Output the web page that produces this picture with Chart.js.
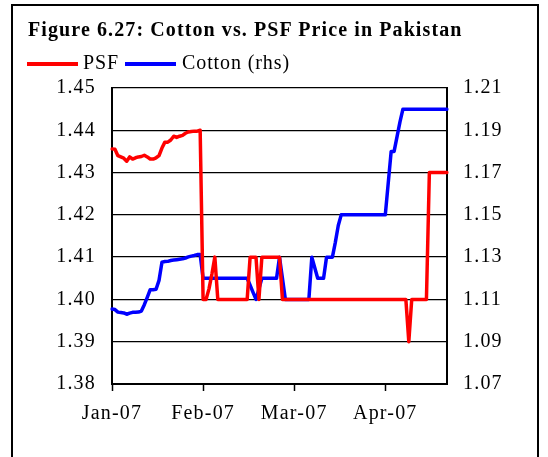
<!DOCTYPE html>
<html>
<head>
<meta charset="utf-8">
<script src="https://cdn.jsdelivr.net/npm/chart.js@4"></script>
<style>
  html, body { margin: 0; padding: 0; background: #fff; }
  #wrap { position: relative; width: 548px; height: 457px; overflow: hidden; background: #fff; }
  #frame { position: absolute; left: 11px; top: 4px; width: 524px; height: 470px;
           border-left: 2px solid #000; border-top: 2px solid #000; border-right: 2px solid #000; }
  #chart { position: absolute; left: 0; top: 0; }
  .txt { position: absolute; font-family: 'Liberation Serif', 'Times New Roman', serif; color: #000; white-space: nowrap; line-height: 20px; }
  #title { left: 28px; top: 19px; font-size: 20px; font-weight: bold; letter-spacing: 1.1px; }
  .leg { top: 52px; font-size: 20px; letter-spacing: 0.9px; }
  .sw { position: absolute; height: 3.5px; top: 62px; width: 51px; }
</style>
</head>
<body>
<div id="wrap">
  <div id="frame"></div>
  <canvas id="chart" width="548" height="457"></canvas>
  <div class="txt" id="title">Figure 6.27: Cotton vs. PSF Price in Pakistan</div>
  <div class="sw" style="left:27px;background:#ff0000"></div>
  <div class="txt leg" style="left:83px">PSF</div>
  <div class="sw" style="left:125px;background:#0000ff"></div>
  <div class="txt leg" style="left:182px">Cotton (rhs)</div>
</div>
<script>
// Tick labels on the category axis (one per month mark)
const tickIndices = [0, 31, 62, 93];
const tickLabels = ["Jan-07", "Feb-07", "Mar-07", "Apr-07"];

// Daily observations, 1 Jan 2007 onwards (115 days)
const categories = [];
for (let i = 0; i < 115; i++) {
  const d = new Date(Date.UTC(2007, 0, 1 + i));
  categories.push(d.toISOString().slice(0, 10));
}

// PSF price (left axis)
const psf = [
  1.4356, 1.4355, 1.4340, 1.4337, 1.4334, 1.4327, 1.4337, 1.4332, 1.4335, 1.4337,
  1.4338, 1.4341, 1.4337, 1.4332, 1.4332, 1.4335, 1.4340, 1.4358, 1.4372, 1.4372,
  1.4377, 1.4386, 1.4383, 1.4386, 1.4388, 1.4393, 1.4396, 1.4397, 1.4398, 1.4398,
  1.4400,
  1.4000, 1.4000, 1.4025, 1.4060, 1.4100, 1.4000,
  1.4000, 1.4000, 1.4000, 1.4000, 1.4000, 1.4000, 1.4000, 1.4000, 1.4000, 1.4000,
  1.4100, 1.4100, 1.4100, 1.4000,
  1.4100, 1.4100, 1.4100, 1.4100, 1.4100, 1.4100, 1.4100,
  1.4000, 1.4000, 1.4000, 1.4000, 1.4000, 1.4000, 1.4000, 1.4000, 1.4000, 1.4000,
  1.4000, 1.4000, 1.4000, 1.4000, 1.4000, 1.4000, 1.4000, 1.4000, 1.4000, 1.4000,
  1.4000, 1.4000, 1.4000, 1.4000, 1.4000, 1.4000, 1.4000, 1.4000, 1.4000, 1.4000,
  1.4000, 1.4000, 1.4000, 1.4000, 1.4000, 1.4000, 1.4000, 1.4000, 1.4000, 1.4000,
  1.4000, 1.4000, 1.4000,
  1.3900,
  1.4000, 1.4000, 1.4000, 1.4000, 1.4000, 1.4000,
  1.4300, 1.4300, 1.4300, 1.4300, 1.4300, 1.4300, 1.4300
];

// Cotton price (right axis)
const cotton = [
  1.1055, 1.1052, 1.1040, 1.1038, 1.1036, 1.1030, 1.1035, 1.1039, 1.1039, 1.1040,
  1.1045, 1.1075, 1.1110, 1.1146, 1.1146, 1.1148, 1.1190, 1.1276, 1.1279, 1.1280,
  1.1284, 1.1286, 1.1288, 1.1290, 1.1292, 1.1296, 1.1301, 1.1305, 1.1308, 1.1312,
  1.1312,
  1.1200, 1.1200, 1.1200, 1.1200, 1.1200, 1.1200, 1.1200, 1.1200, 1.1200, 1.1200,
  1.1200, 1.1200, 1.1200, 1.1200, 1.1200, 1.1200,
  1.1167, 1.1133, 1.1100, 1.1150,
  1.1200, 1.1200, 1.1200, 1.1200, 1.1200, 1.1200,
  1.1300, 1.1200,
  1.1100, 1.1100, 1.1100, 1.1100, 1.1100, 1.1100, 1.1100, 1.1100, 1.1100,
  1.1300, 1.1250,
  1.1200, 1.1200, 1.1200,
  1.1300, 1.1300, 1.1300,
  1.1370, 1.1450,
  1.1500, 1.1500, 1.1500, 1.1500, 1.1500, 1.1500, 1.1500, 1.1500, 1.1500, 1.1500,
  1.1500, 1.1500, 1.1500, 1.1500, 1.1500, 1.1500,
  1.1650, 1.1800, 1.1800, 1.1870, 1.1940,
  1.2000, 1.2000, 1.2000, 1.2000, 1.2000, 1.2000, 1.2000, 1.2000, 1.2000, 1.2000,
  1.2000, 1.2000, 1.2000, 1.2000, 1.2000, 1.2000
];

const FONT = { family: "'Liberation Serif', 'Times New Roman', serif", size: 20 };

const spacingPlugin = {
  id: 'spacing',
  beforeDraw(chart) { chart.ctx.letterSpacing = '1.2px'; }
};

new Chart(document.getElementById('chart'), {
  type: 'line',
  data: {
    labels: categories,
    datasets: [
      { label: 'PSF', data: psf, yAxisID: 'y', borderColor: '#ff0000', backgroundColor: '#ff0000',
        borderWidth: 3.5, pointRadius: 0, tension: 0, borderJoinStyle: 'round', borderCapStyle: 'round' },
      { label: 'Cotton (rhs)', data: cotton, yAxisID: 'y1', borderColor: '#0000ff', backgroundColor: '#0000ff',
        borderWidth: 3.5, pointRadius: 0, tension: 0, borderJoinStyle: 'round', borderCapStyle: 'round' }
    ]
  },
  plugins: [spacingPlugin],
  options: {
    responsive: false,
    animation: false,
    devicePixelRatio: 1,
    layout: { padding: { top: 88, left: 0, right: 0, bottom: 0 } },
    plugins: { legend: { display: false }, title: { display: false }, tooltip: { enabled: false } },
    scales: {
      x: {
        type: 'category',
        offset: false,
        afterBuildTicks: (s) => { s.ticks = s.ticks.filter(t => tickIndices.includes(t.value)); },
        afterFit: (s) => { s.height = 73; },
        ticks: {
          autoSkip: false, maxRotation: 0, minRotation: 0, color: '#000', font: FONT, padding: 11,
          callback: (v) => tickLabels[tickIndices.indexOf(v)]
        },
        grid: { drawOnChartArea: false, drawTicks: true, tickLength: 7, tickColor: '#000', tickWidth: 1.5 },
        border: { color: '#000', width: 2 }
      },
      y: {
        position: 'left',
        min: 1.38, max: 1.45,
        afterFit: (s) => { s.width = 112; },
        ticks: { stepSize: 0.01, color: '#000', font: FONT, padding: 16, callback: (v) => v.toFixed(2) },
        grid: { color: '#000', lineWidth: 1.3, drawTicks: false },
        border: { color: '#000', width: 2 }
      },
      y1: {
        position: 'right',
        min: 1.07, max: 1.21,
        afterFit: (s) => { s.width = 101; },
        ticks: { stepSize: 0.02, color: '#000', font: FONT, padding: 16, callback: (v) => v.toFixed(2) },
        grid: { drawOnChartArea: false, drawTicks: false },
        border: { color: '#000', width: 2 }
      }
    }
  }
});
</script>
</body>
</html>
